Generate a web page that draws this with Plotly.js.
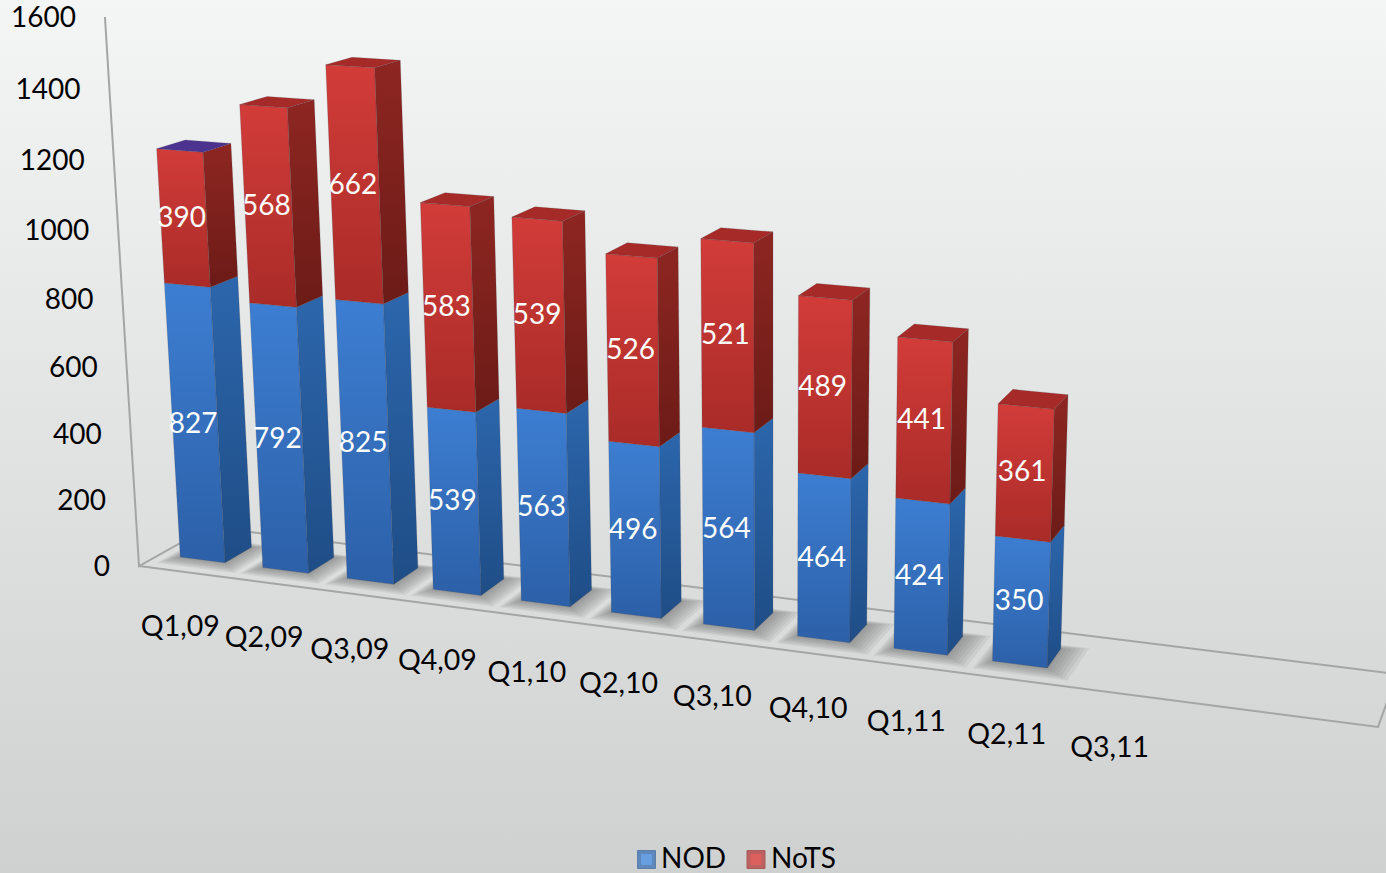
<!DOCTYPE html>
<html><head><meta charset="utf-8">
<script src="https://cdn.plot.ly/plotly-3.0.1.min.js"></script>
<style>html,body{margin:0;padding:0;width:1386px;height:873px;overflow:hidden;background:linear-gradient(#f4f5f5,#cfd1d1)}#c{width:1386px;height:873px}</style>
</head><body><div id="c"></div>
<script>
// Quarterly figures, stacked NOD + NoTS
const categories=['Q1,09','Q2,09','Q3,09','Q4,09','Q1,10','Q2,10','Q3,10','Q4,10','Q1,11','Q2,11','Q3,11'];
const nod=[827,792,825,539,563,496,564,464,424,350];
const nots=[390,568,662,583,539,526,521,489,441,361];
const valueTicks=[0,200,400,600,800,1000,1200,1400,1600];
const SLOTS=13, VALUE_MAX=1600;

// Perspective camera: floor corners plus a vertical vanishing direction
const F=[[139,566],[1378,727],[1397,674],[209,527]];
const ZC=[-39.4,-549.9,-0.051];
const cam=(function(){
  const [p0,p1,p2,p3]=F;
  const dx1=p1[0]-p2[0],dx2=p3[0]-p2[0],sx=p0[0]-p1[0]+p2[0]-p3[0];
  const dy1=p1[1]-p2[1],dy2=p3[1]-p2[1],sy=p0[1]-p1[1]+p2[1]-p3[1];
  const det=dx1*dy2-dx2*dy1;
  const g=(sx*dy2-dx2*sy)/det,h=(dx1*sy-sx*dy1)/det;
  return {a:p1[0]-p0[0]+g*p1[0],b:p3[0]-p0[0]+h*p3[0],c:p0[0],d:p1[1]-p0[1]+g*p1[1],e:p3[1]-p0[1]+h*p3[1],f:p0[1],g,h};
})();
function P(slot,depth,value){
  const u=slot/SLOTS,v=depth,z=value/VALUE_MAX;
  const w=cam.g*u+cam.h*v+1+ZC[2]*z;
  return [(cam.a*u+cam.b*v+cam.c+ZC[0]*z)/w,(cam.d*u+cam.e*v+cam.f+ZC[1]*z)/w];
}

const BAR_L=0.25,BAR_R=0.795,D0=0.29,D1=0.68;
// Each gradient runs [bottom, top]
const BLUE={front:['#2c60a8','#3d7ed2'],side:['#1f4d86','#2c66ac']};
const RED={front:['#a92b28','#d23c39'],side:['#6c1b17','#8e2622'],top:'#a62a27'};
const traces=[];

function poly(pts,fill,edge){
  const xs=pts.map(p=>p[0]),ys=pts.map(p=>p[1]);
  xs.push(xs[0]);ys.push(ys[0]);
  const t={type:'scatter',mode:'lines',x:xs,y:ys,fill:'toself',showlegend:false,hoverinfo:'skip',
    line:{color:edge||'rgba(0,0,0,0)',width:edge?1:0}};
  if(Array.isArray(fill)) t.fillgradient={type:'vertical',colorscale:[[0,fill[0]],[1,fill[1]]]};
  else t.fillcolor=fill;
  traces.push(t);
}
function line(pts,color,width){
  traces.push({type:'scatter',mode:'lines',x:pts.map(p=>p[0]),y:pts.map(p=>p[1]),showlegend:false,hoverinfo:'skip',line:{color:color,width:width}});
}
const FRAME='#a4a6a6';
line([P(0,1,0),P(SLOTS,1,0)],FRAME,2);
line([P(0,0,VALUE_MAX),P(0,0,0),P(0,1,0)],FRAME,2);
line([P(0,0,0),P(SLOTS,0,0),P(SLOTS,1,0)],FRAME,2);

// Soft contact shadows on the floor
nod.forEach((_,i)=>{
  [0.26,0.22,0.18,0.14,0.10,0.06,0.02].forEach(e=>{
    const x0=i+BAR_L-e*0.5,x1=i+BAR_R+e,y0=Math.max(0.05,D0-e*0.7),y1=D1+e*0.3;
    poly([P(x0,y0,0),P(x1,y0,0),P(x1,y1,0),P(x0,y1,0)],'rgba(95,95,95,0.1)');
  });
});

function block(i,z0,z1,pal,topColor){
  const x0=i+BAR_L,x1=i+BAR_R,edge='rgba(70,70,80,0.2)';
  poly([P(x0,D0,z1),P(x1,D0,z1),P(x1,D0,z0),P(x0,D0,z0)],pal.front,edge);
  poly([P(x1,D0,z1),P(x1,D1,z1),P(x1,D1,z0),P(x1,D0,z0)],pal.side,edge);
  if(topColor) poly([P(x0,D0,z1),P(x1,D0,z1),P(x1,D1,z1),P(x0,D1,z1)],topColor,edge);
}
nod.forEach((v,i)=>{
  block(i,0,v,BLUE);
  block(i,v,v+nots[i],RED,i===0?'#4c3390':RED.top);
});

// Data labels sit on the middle of each front face
const labelFont={family:'Lato, Carlito, sans-serif',size:28,color:'#ffffff'};
function labels(values,bases){
  const pts=values.map((v,i)=>P(i+0.5,D0,bases[i]+v/2));
  traces.push({type:'scatter',mode:'text',x:pts.map(p=>p[0]),y:pts.map(p=>p[1]+1.5),text:values.map(String),textposition:'middle center',textfont:labelFont,showlegend:false,hoverinfo:'skip',cliponaxis:false});
}
labels(nod,nod.map(()=>0));
labels(nots,nod);

// Value axis labels, category labels
const tickFont={family:'Lato, Carlito, sans-serif',size:28,color:'#000000'};
const catFont={family:'Lato, Carlito, sans-serif',size:28.5,color:'#000000'};
const tk=valueTicks.map(v=>P(0,0,v));
traces.push({type:'scatter',mode:'text',x:tk.map(p=>p[0]-29),y:tk.map(p=>p[1]+3),text:valueTicks.map(String),textposition:'middle left',textfont:tickFont,showlegend:false,hoverinfo:'skip',cliponaxis:false});
const cl=categories.map((_,i)=>P(i+0.5,0,0));
traces.push({type:'scatter',mode:'text',x:cl.map(p=>p[0]),y:cl.map(p=>p[1]+58),text:categories,textposition:'middle center',textfont:catFont,showlegend:false,hoverinfo:'skip',cliponaxis:false});

// Series key along the bottom edge: bevelled swatch, then its name
function keyItem(name,x,textX,dark,light,edge){
  traces.push({type:'scatter',mode:'markers',x:[x,x],y:[859.5,859.5],name:name,showlegend:false,hoverinfo:'skip',cliponaxis:false,
    marker:{symbol:'square',size:[18,10],color:[dark,light],line:{color:[edge,light],width:1}}});
  traces.push({type:'scatter',mode:'text',x:[textX],y:[861],text:[name],textposition:'middle right',textfont:tickFont,showlegend:false,hoverinfo:'skip',cliponaxis:false});
}
keyItem('NOD',646.5,661,'#2f68b2','#6aa8f0','#2a5a9a');
keyItem('NoTS',756,771,'#b53230','#ea605c','#9a2a28');

Plotly.newPlot('c',traces,{
  paper_bgcolor:'rgba(0,0,0,0)',plot_bgcolor:'rgba(0,0,0,0)',
  margin:{l:0,r:0,t:0,b:0},showlegend:false,
  xaxis:{range:[0,1386],visible:false,fixedrange:true},
  yaxis:{range:[873,0],visible:false,fixedrange:true},
  width:1386,height:873
},{displayModeBar:false,staticPlot:true});
</script></body></html>
